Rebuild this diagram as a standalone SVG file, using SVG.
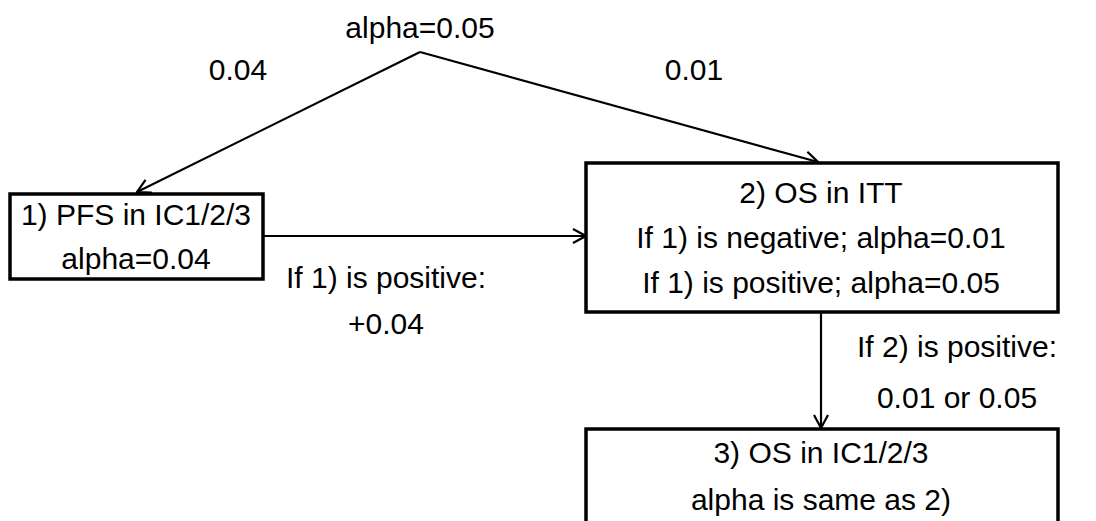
<svg xmlns="http://www.w3.org/2000/svg" width="1096" height="521" viewBox="0 0 1096 521">
<style>
text{font-family:"Liberation Sans",Arial,sans-serif;font-size:30px;fill:#000;text-anchor:middle}
.box{fill:#fff;stroke:#000;stroke-width:3.5}
.con{fill:none;stroke:#000;stroke-width:2.2}
</style>
<defs>
<marker id="arr" viewBox="0 0 20 20" refX="19" refY="10" markerWidth="20" markerHeight="20" markerUnits="userSpaceOnUse" orient="auto">
<path d="M6,3 L19,10 L6,17" fill="none" stroke="#000" stroke-width="2.2"/>
</marker>
</defs>
<rect width="1096" height="521" fill="#fff"/>
<g id="connectors">
<line class="con" x1="420" y1="52" x2="137" y2="192" marker-end="url(#arr)"/>
<line class="con" x1="420" y1="52" x2="818" y2="162" marker-end="url(#arr)"/>
<line class="con" x1="263" y1="236" x2="586" y2="236" marker-end="url(#arr)"/>
<line class="con" x1="821" y1="312" x2="821" y2="428" marker-end="url(#arr)"/>
<text x="420" y="38">alpha=0.05</text>
<text x="238" y="80">0.04</text>
<text x="694" y="80">0.01</text>
<text x="386" y="288">If 1) is positive:</text>
<text x="386" y="334">+0.04</text>
<text x="957" y="357">If 2) is positive:</text>
<text x="957" y="408">0.01 or 0.05</text>
</g>
<g id="node1">
<rect class="box" x="10" y="194" width="253" height="85"/>
<text x="136" y="225">1) PFS in IC1/2/3</text>
<text x="136" y="269">alpha=0.04</text>
</g>
<g id="node2">
<rect class="box" x="586" y="163" width="472" height="149"/>
<text x="821" y="203">2) OS in ITT</text>
<text x="821" y="248">If 1) is negative; alpha=0.01</text>
<text x="821" y="293">If 1) is positive; alpha=0.05</text>
</g>
<g id="node3">
<rect class="box" x="586" y="429" width="472" height="120"/>
<text x="821" y="463">3) OS in IC1/2/3</text>
<text x="821" y="510">alpha is same as 2)</text>
</g>
</svg>
